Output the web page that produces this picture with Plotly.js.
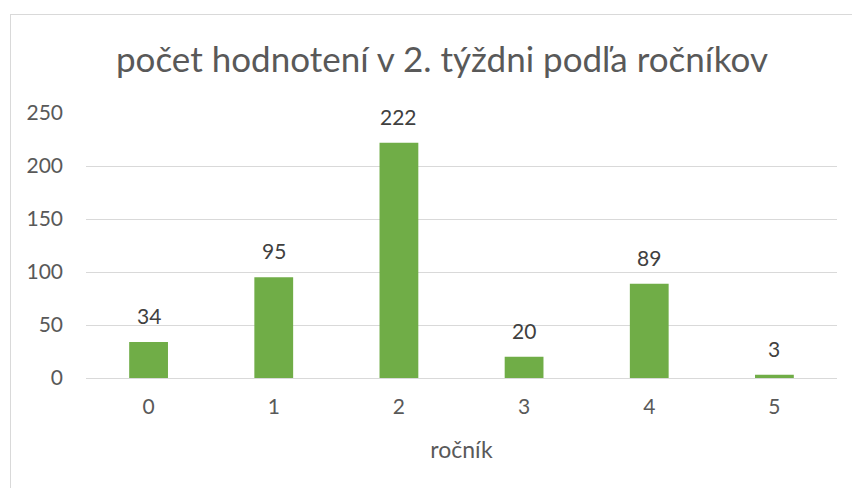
<!DOCTYPE html>
<html>
<head>
<meta charset="utf-8">
<script src="https://cdn.plot.ly/plotly-3.0.1.min.js"></script>
<style>
html,body{margin:0;padding:0;background:#fff;}
#wrap{position:relative;width:852px;height:488px;}
#chart{width:852px;height:488px;}
#frame{position:absolute;left:10px;top:14px;width:860px;height:500px;border:1px solid #D9D9D9;pointer-events:none;}
</style>
</head>
<body>
<div id="wrap"><div id="chart"></div><div id="frame"></div></div>
<script>
const categories = ['0', '1', '2', '3', '4', '5'];
const values = [34, 95, 222, 20, 89, 3];
const yTicks = [0, 50, 100, 150, 200, 250];
const chartTitle = 'počet hodnotení v 2. týždni podľa ročníkov';
const xTitle = 'ročník';

const FONT = 'Lato, "Noto Sans", sans-serif';

const trace = {
  type: 'bar',
  x: categories,
  y: values,
  marker: {color: '#70AD47'},
  hoverinfo: 'x+y'
};

const labelAnns = categories.map((c, i) => ({
  x: c, y: values[i], xref: 'x', yref: 'y',
  text: String(values[i]), showarrow: false,
  yanchor: 'bottom', yshift: 12,
  font: {family: FONT, size: 21, color: '#404040'}
}));

const layout = {
  width: 852, height: 488,
  margin: {l: 86, r: 15, t: 113, b: 110, pad: 0},
  paper_bgcolor: '#fff', plot_bgcolor: '#fff',
  bargap: 0.69,
  showlegend: false,
  title: {
    text: chartTitle,
    x: 442/852, xanchor: 'center', xref: 'container',
    y: 1 - 60/488, yanchor: 'middle', yref: 'container',
    font: {family: FONT, size: 35, color: '#595959'}
  },
  xaxis: {
    type: 'category',
    showgrid: false, zeroline: false, showline: false,
    ticks: '', ticklabelstandoff: 14,
    tickfont: {family: FONT, size: 21, color: '#595959'},
    title: {text: xTitle, standoff: 24, font: {family: FONT, size: 23, color: '#595959'}}
  },
  yaxis: {
    range: [0, 250],
    tickvals: yTicks, ticktext: yTicks.map(String),
    showgrid: true, gridcolor: '#D9D9D9', gridwidth: 1,
    zeroline: true, zerolinecolor: '#D9D9D9', zerolinewidth: 1,
    showline: false, ticks: '', ticklabelstandoff: 22,
    tickfont: {family: FONT, size: 21, color: '#595959'}
  },
  annotations: labelAnns
};

Plotly.newPlot('chart', [trace], layout, {displayModeBar: false, staticPlot: true});
</script>
</body>
</html>
